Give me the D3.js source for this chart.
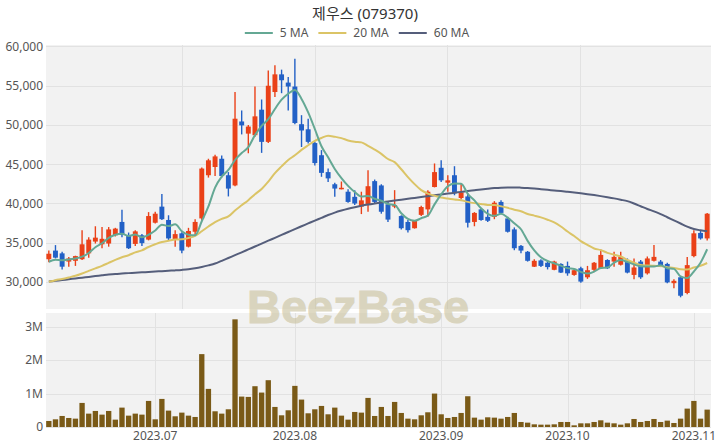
<!DOCTYPE html>
<html><head><meta charset="utf-8">
<script src="https://cdn.jsdelivr.net/npm/d3@7"></script>
<style>
body{margin:0;background:#fff;}
svg{display:block;font-family:"Noto Sans","Noto Sans CJK KR",sans-serif;}
</style>
</head><body>
<svg id="chart" width="720" height="448"></svg>
<script>
const title = "제우스 (079370)";
const dates = [
"2023-06-09","2023-06-12","2023-06-13","2023-06-14","2023-06-15","2023-06-16","2023-06-19","2023-06-20","2023-06-21","2023-06-22","2023-06-23","2023-06-26","2023-06-27","2023-06-28","2023-06-29","2023-06-30",
"2023-07-03","2023-07-04","2023-07-05","2023-07-06","2023-07-07","2023-07-10","2023-07-11","2023-07-12","2023-07-13","2023-07-14","2023-07-17","2023-07-18","2023-07-19","2023-07-20","2023-07-21","2023-07-24","2023-07-25","2023-07-26","2023-07-27","2023-07-28","2023-07-31",
"2023-08-01","2023-08-02","2023-08-03","2023-08-04","2023-08-07","2023-08-08","2023-08-09","2023-08-10","2023-08-11","2023-08-14","2023-08-16","2023-08-17","2023-08-18","2023-08-21","2023-08-22","2023-08-23","2023-08-24","2023-08-25","2023-08-28","2023-08-29","2023-08-30","2023-08-31",
"2023-09-01","2023-09-04","2023-09-05","2023-09-06","2023-09-07","2023-09-08","2023-09-11","2023-09-12","2023-09-13","2023-09-14","2023-09-15","2023-09-18","2023-09-19","2023-09-20","2023-09-21","2023-09-22","2023-09-25","2023-09-26","2023-09-27",
"2023-10-04","2023-10-05","2023-10-06","2023-10-10","2023-10-11","2023-10-12","2023-10-13","2023-10-16","2023-10-17","2023-10-18","2023-10-19","2023-10-20","2023-10-23","2023-10-24","2023-10-25","2023-10-26","2023-10-27","2023-10-30","2023-10-31",
"2023-11-01","2023-11-02","2023-11-03"];
const opens = [
32900,34000,33650,32600,32700,32900,33650,35150,34800,34900,
35950,37650,35850,34850,35950,35400,37550,39600,37900,35350,
36200,34500,36400,38100,43600,44650,45700,43600,42300,50450,
48900,48700,51950,47850,54200,56450,55400,54900,50100,49450,
47700,46150,44000,42450,41850,41500,40850,39600,39800,42850,
42300,39900,39600,38400,37650,36850,38550,39250,42100,44550,
42650,43600,40700,40900,37650,39250,38300,38300,40200,38100,
36700,34600,33850,31950,32750,32450,31550,32300,32050,30900,
31750,30600,31550,31750,32800,32600,32200,32550,30900,32600,
31100,32700,32600,32300,29850,30600,28600,33300,36250,35550];
const closes = [
33600,33100,31950,33000,33300,34800,35400,35650,35500,36700,
36800,36000,34300,36450,34950,38400,38700,38000,35550,36100,
34000,36500,37650,44450,45500,46000,43500,41900,50800,49950,
49800,51100,47850,55000,56450,55700,54900,50250,49300,47850,
45150,43900,43200,41900,42000,40200,40000,40400,42200,40200,
38950,37950,39800,36850,36600,37800,39550,41500,44000,42950,
42950,41300,41400,37550,38800,37900,37800,40100,38800,36400,
34300,34000,32700,32700,32050,31900,32600,31200,31100,31500,
30050,31500,32450,33450,31750,33200,33200,31200,31850,30600,
33000,33200,32050,29950,30150,28250,32150,36200,35550,38700];
const highs = [
34000,34700,33850,33200,33350,36600,35700,37100,37000,37000,
36900,39200,36300,36600,36100,38900,38950,41200,38500,36600,
36350,36900,38000,44600,45700,46200,46100,44000,54200,51850,
50000,54900,53250,56950,57600,57050,56100,58450,51250,50800,
47850,46800,44450,42650,42800,41800,41700,41500,44250,43050,
42450,40200,41700,38500,37900,37900,39700,41700,45100,45500,
43600,44750,42500,41300,38900,39400,39250,40300,40400,38300,
36950,34700,33950,32900,32900,32700,32700,32400,32600,31600,
31950,32050,32550,34150,32900,33850,33850,33000,33000,32800,
33250,34700,32800,32450,30350,30750,33200,36600,36600,38800];
const lows = [
32500,33000,31600,31950,32050,32800,33100,34900,34300,34500,
35800,35700,34200,34600,34600,35300,37450,37900,35300,34500,
33650,34400,36000,37800,43300,43500,43300,40900,42200,48800,
46400,48500,46450,47700,53550,54050,51850,50100,47200,47650,
44850,43400,42750,40850,41800,40100,39800,38650,38950,40000,
38700,37650,39400,36700,36300,36800,38400,38300,42050,42750,
41500,41050,40500,36950,37100,37800,37650,38000,38700,36300,
34050,33650,32600,31900,31900,31600,31500,31150,30800,30800,
29900,30400,31400,31650,31650,31950,32100,31100,30350,30400,
30950,32600,31900,29850,29200,28050,28450,33150,35400,35300];
const volumes = [
180000,230000,330000,270000,250000,720000,400000,480000,370000,480000,
220000,580000,340000,400000,370000,780000,230000,840000,490000,320000,
430000,340000,300000,2180000,1140000,470000,400000,530000,3220000,910000,
900000,1220000,1030000,1400000,600000,350000,500000,1230000,820000,410000,
530000,630000,380000,580000,340000,220000,450000,430000,870000,330000,
600000,330000,750000,420000,250000,230000,350000,440000,1000000,380000,
270000,300000,420000,920000,280000,220000,290000,280000,250000,300000,
420000,150000,130000,80000,70000,70000,80000,150000,150000,50000,
110000,110000,150000,200000,130000,110000,70000,110000,240000,150000,
180000,240000,150000,190000,120000,250000,550000,780000,250000,520000];
// closes before the first shown day, estimated from where the 5/20 MA lines start
const priorCloses = [29000,28900,29100,29000,28800,28900,29200,29100,29000,29300,29200,29100,29400,29600,29900,31800,32300,32500,32700];
// 60-day MA
const ma60 = [
30050,30150,30250,30350,30450,30550,30650,30750,30850,30950,
31030,31080,31130,31180,31230,31280,31330,31380,31430,31480,
31540,31620,31750,31920,32120,32350,32700,33060,33420,33780,
34150,34520,34890,35260,35630,36000,36370,36740,37100,37460,
37820,38170,38530,38840,39100,39330,39530,39710,39870,40010,
40140,40260,40380,40490,40600,40710,40820,40930,41040,41150,
41260,41370,41480,41590,41690,41790,41880,41960,42020,42050,
42050,42020,41970,41900,41820,41740,41660,41580,41490,41400,
41300,41190,41070,40940,40800,40650,40480,40300,40000,39650,
39300,39000,38650,38250,37850,37450,37050,36750,36580,36450];
const maLabels = ["5 MA","20 MA","60 MA"];
const maColors = ["#64a894","#dbc466","#555e7b"];
const priceTicks = [30000,35000,40000,45000,50000,55000,60000];
const volumeTicks = [0,1000000,2000000,3000000];
const monthLabels = ["2023.07","2023.08","2023.09","2023.10","2023.11"];

const allCloses = priorCloses.concat(closes);
function movingAvg(n){
  return closes.map((c,i)=>{
    const j = i + priorCloses.length;
    return d3.mean(allCloses.slice(j-n+1, j+1));
  });
}
const ma5 = movingAvg(5), ma20 = movingAvg(20);
const maSeries = [ma5, ma20, ma60];

const svg = d3.select("#chart");
const L = 46, R = 711, T1 = 45, B1 = 309, T2 = 313, B2 = 428;
const idx = d3.range(dates.length);

const x = d3.scaleBand().domain(dates).range([45.5, 710.5]).padding(0);
const xc = i => x(dates[i]) + x.bandwidth()/2;
const y = d3.scaleLinear().domain([26560, 60190]).range([B1, T1]);
const yv = d3.scaleLinear().domain([0, 3410000]).range([427, T2]);

// panels
svg.append("rect").attr("x",L).attr("y",T1).attr("width",R-L).attr("height",B1-T1).attr("fill","#f2f2f2");
svg.append("rect").attr("x",L).attr("y",T2).attr("width",R-L).attr("height",B2-T2).attr("fill","#f2f2f2");

const grid = svg.append("g").attr("stroke","#e2e2e2").attr("stroke-width",1);
priceTicks.forEach(t=>{
  grid.append("line").attr("x1",L).attr("x2",R).attr("y1",Math.round(y(t))+0.5).attr("y2",Math.round(y(t))+0.5);
});
d3.range(1,5).forEach(k=>{
  const gx = Math.round(49 + k*(713-49)/5)+0.5;
  grid.append("line").attr("x1",gx).attr("x2",gx).attr("y1",T1).attr("y2",B1);
});
volumeTicks.forEach(t=>{
  grid.append("line").attr("x1",L).attr("x2",R).attr("y1",Math.round(yv(t))+0.5).attr("y2",Math.round(yv(t))+0.5);
});
const monthFirst = monthLabels.map(m=>{
  const key = m.replace(".","-");
  return dates.find(d=>d.startsWith(key));
});
monthFirst.forEach(d=>{
  const gx = Math.round(x(d)+x.bandwidth()/2)+0.5;
  grid.append("line").attr("x1",gx).attr("x2",gx).attr("y1",T2).attr("y2",B2);
});

// watermark
svg.append("text").attr("x",358).attr("y",323).attr("text-anchor","middle")
  .attr("font-family","'Liberation Sans',Arial,sans-serif").attr("font-weight","bold")
  .attr("font-size",47).attr("fill","#c8bf99").attr("opacity",0.58)
  .attr("stroke","#c8bf99").attr("stroke-width",1).text("BeezBase");

// candles
const up = "#ea4118", down = "#2260c6";
svg.append("clipPath").attr("id","cp").append("rect").attr("x",L).attr("y",T1).attr("width",R-L).attr("height",B1-T1);
const cg = svg.append("g").attr("clip-path","url(#cp)");
const bw = x.bandwidth()*0.74;
cg.selectAll("line.w").data(idx).join("line").attr("class","w")
  .attr("x1",xc).attr("x2",xc).attr("y1",i=>y(highs[i])).attr("y2",i=>y(lows[i]))
  .attr("stroke",i=>closes[i]>=opens[i]?up:down).attr("stroke-width",1.4);
cg.selectAll("rect.b").data(idx).join("rect").attr("class","b")
  .attr("x",i=>xc(i)-bw/2).attr("width",bw)
  .attr("y",i=>y(Math.max(opens[i],closes[i])))
  .attr("height",i=>Math.max(1.5, Math.abs(y(opens[i])-y(closes[i]))))
  .attr("fill",i=>closes[i]>=opens[i]?up:down);

// MA lines
const line = d3.line().x((v,i)=>xc(i)).y(v=>y(v)).curve(d3.curveMonotoneX);
[2,1,0].forEach(k=>{
  cg.append("path").attr("d",line(maSeries[k])).attr("fill","none")
    .attr("stroke",maColors[k]).attr("stroke-width",2);
});

// volume
const vbw = x.bandwidth()*0.8;
svg.append("g").selectAll("rect").data(idx).join("rect")
  .attr("x",i=>xc(i)-vbw/2).attr("width",vbw)
  .attr("y",i=>yv(volumes[i])).attr("height",i=>yv(0)-yv(volumes[i]))
  .attr("fill","#7a5a17");

// axes
const styleAxis = g=>{
  g.select(".domain").remove();
  g.selectAll("text").attr("fill","#555").attr("font-size",12).attr("font-family","'Noto Sans',sans-serif");
};
svg.append("g").attr("transform",`translate(${L},0)`)
  .call(d3.axisLeft(y).tickValues(priceTicks).tickFormat(d3.format(",")).tickSize(0).tickPadding(3))
  .call(styleAxis);
svg.append("g").attr("transform",`translate(${L},0)`)
  .call(d3.axisLeft(yv).tickValues(volumeTicks).tickFormat(d=>d===0?"0":(d/1e6)+"M").tickSize(0).tickPadding(3))
  .call(styleAxis);
svg.append("g").attr("transform",`translate(0,${B2})`)
  .call(d3.axisBottom(x).tickValues(monthFirst).tickFormat((d,i)=>monthLabels[i]).tickSize(0).tickPadding(3))
  .call(styleAxis);

// title
svg.append("text").attr("x",365).attr("y",19).attr("text-anchor","middle")
  .attr("font-size",15).attr("fill","#333").text(title);

// legend
const lg = svg.append("g").attr("font-size",12).attr("fill","#555");
let lx = 0;
maLabels.forEach((lab,k)=>{
  const g = lg.append("g").attr("transform",`translate(${lx},0)`);
  g.append("line").attr("x1",0).attr("x2",28).attr("y1",0).attr("y2",0).attr("stroke",maColors[k]).attr("stroke-width",2);
  const t = g.append("text").attr("x",35).attr("y",4).text(lab);
  lx += 35 + t.node().getComputedTextLength() + 10;
});
const lw = lx - 10;
lg.attr("transform",`translate(${357 - lw/2},33)`);
</script>
</body></html>
